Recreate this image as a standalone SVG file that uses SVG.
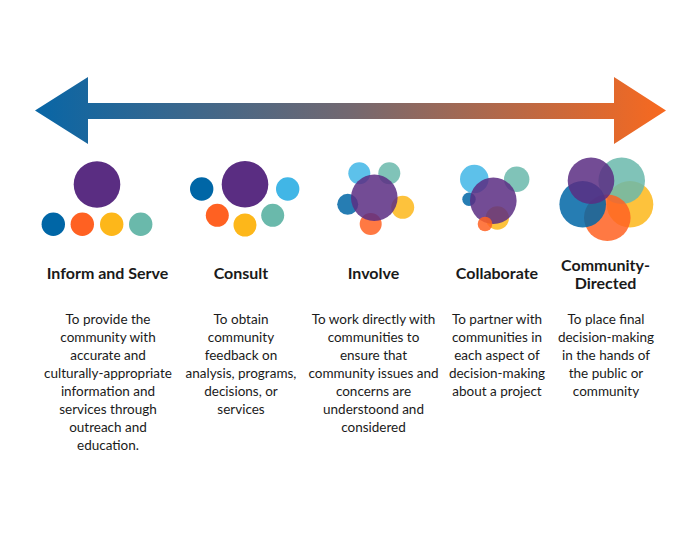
<svg xmlns="http://www.w3.org/2000/svg" width="700" height="541" viewBox="0 0 700 541">
<defs>
<linearGradient id="grad" x1="35" y1="0" x2="666" y2="0" gradientUnits="userSpaceOnUse">
<stop offset="0" stop-color="#0866a6"/>
<stop offset="0.5" stop-color="#736870"/>
<stop offset="1" stop-color="#f8691f"/>
</linearGradient>
<style>
.title{font-family:Lato,"Liberation Sans",sans-serif;font-weight:bold;font-size:16px;fill:#1a1a1a;text-anchor:middle}
.body{font-family:Lato,"Liberation Sans",sans-serif;font-size:13.5px;fill:#1a1a1a;text-anchor:middle}
.pu{fill:#5a2d82}.bl{fill:#0066a6}.or{fill:#ff6122}.ye{fill:#fdb71a}.te{fill:#6ab9ab}.lb{fill:#41b6e6}
.ov circle{opacity:0.85}
</style>
</defs>
<rect width="700" height="541" fill="#ffffff"/>
<g id="connectors">
<path d="M35,110.5 L88,77 L88,103 L614,103 L614,77 L666,110.5 L614,144 L614,119 L88,119 L88,144 Z" fill="url(#grad)"/>
</g>
<g id="inform">
<circle class="pu" cx="97" cy="184.5" r="23.3"/>
<circle class="bl" cx="53.3" cy="224.3" r="11.7"/>
<circle class="or" cx="82.3" cy="224.3" r="11.7"/>
<circle class="ye" cx="111.7" cy="224.3" r="11.7"/>
<circle class="te" cx="140.7" cy="224.3" r="11.7"/>
<text class="title" x="107.5" y="278.5">Inform and Serve</text>
<text class="body" x="108" y="324"><tspan x="108">To provide the</tspan><tspan x="108" dy="18">community with</tspan><tspan x="108" dy="18">accurate and</tspan><tspan x="108" dy="18">culturally-appropriate</tspan><tspan x="108" dy="18">information and</tspan><tspan x="108" dy="18">services through</tspan><tspan x="108" dy="18">outreach and</tspan><tspan x="108" dy="18">education.</tspan></text>
</g>
<g id="consult">
<circle class="pu" cx="245" cy="184.3" r="23.3"/>
<circle class="bl" cx="201.7" cy="189" r="11.7"/>
<circle class="lb" cx="287.7" cy="189" r="11.7"/>
<circle class="or" cx="217.3" cy="215.3" r="11.5"/>
<circle class="ye" cx="245" cy="225" r="11.5"/>
<circle class="te" cx="272.7" cy="215.3" r="11.5"/>
<text class="title" x="241" y="278.5">Consult</text>
<text class="body"><tspan x="241" y="324">To obtain</tspan><tspan x="241" dy="18">community</tspan><tspan x="241" dy="18">feedback on</tspan><tspan x="241" dy="18">analysis, programs,</tspan><tspan x="241" dy="18">decisions, or</tspan><tspan x="241" dy="18">services</tspan></text>
</g>
<g id="involve" class="ov">
<circle class="lb" cx="359.3" cy="173.3" r="11"/>
<circle class="te" cx="389.3" cy="173.3" r="11"/>
<circle class="bl" cx="347.7" cy="204.3" r="10.5"/>
<circle class="ye" cx="402.7" cy="207.3" r="11.5"/>
<circle class="or" cx="370.7" cy="224" r="11"/>
<circle class="pu" cx="374.3" cy="197.7" r="23.3"/>
<text class="title" x="373.5" y="278.5">Involve</text>
<text class="body"><tspan x="373.5" y="324">To work directly with</tspan><tspan x="373.5" dy="18">communities to</tspan><tspan x="373.5" dy="18">ensure that</tspan><tspan x="373.5" dy="18">community issues and</tspan><tspan x="373.5" dy="18">concerns are</tspan><tspan x="373.5" dy="18">understoond and</tspan><tspan x="373.5" dy="18">considered</tspan></text>
</g>
<g id="collaborate" class="ov">
<circle class="lb" cx="474.3" cy="179" r="14.3"/>
<circle class="te" cx="516.7" cy="179.3" r="12.7"/>
<circle class="bl" cx="469" cy="199.3" r="6.7"/>
<circle class="ye" cx="497.3" cy="218" r="11.7"/>
<circle class="pu" cx="493.3" cy="200.7" r="23.3"/>
<circle class="or" cx="485" cy="224" r="7.3"/>
<text class="title" x="497" y="278.5">Collaborate</text>
<text class="body"><tspan x="497" y="324">To partner with</tspan><tspan x="497" dy="18">communities in</tspan><tspan x="497" dy="18">each aspect of</tspan><tspan x="497" dy="18">decision-making</tspan><tspan x="497" dy="18">about a project</tspan></text>
</g>
<g id="community-directed" class="ov">
<circle class="ye" cx="630" cy="204.3" r="23.3"/>
<circle class="te" cx="621.7" cy="180.7" r="23.3"/>
<circle class="or" cx="607.3" cy="217.7" r="23.3"/>
<circle class="bl" cx="582.7" cy="204.3" r="23.3"/>
<circle class="pu" cx="591" cy="180.7" r="23.3"/>
<text class="title"><tspan x="605.5" y="270.5">Community-</tspan><tspan x="605.5" y="289">Directed</tspan></text>
<text class="body"><tspan x="606" y="324">To place final</tspan><tspan x="606" dy="18">decision-making</tspan><tspan x="606" dy="18">in the hands of</tspan><tspan x="606" dy="18">the public or</tspan><tspan x="606" dy="18">community</tspan></text>
</g>
</svg>
